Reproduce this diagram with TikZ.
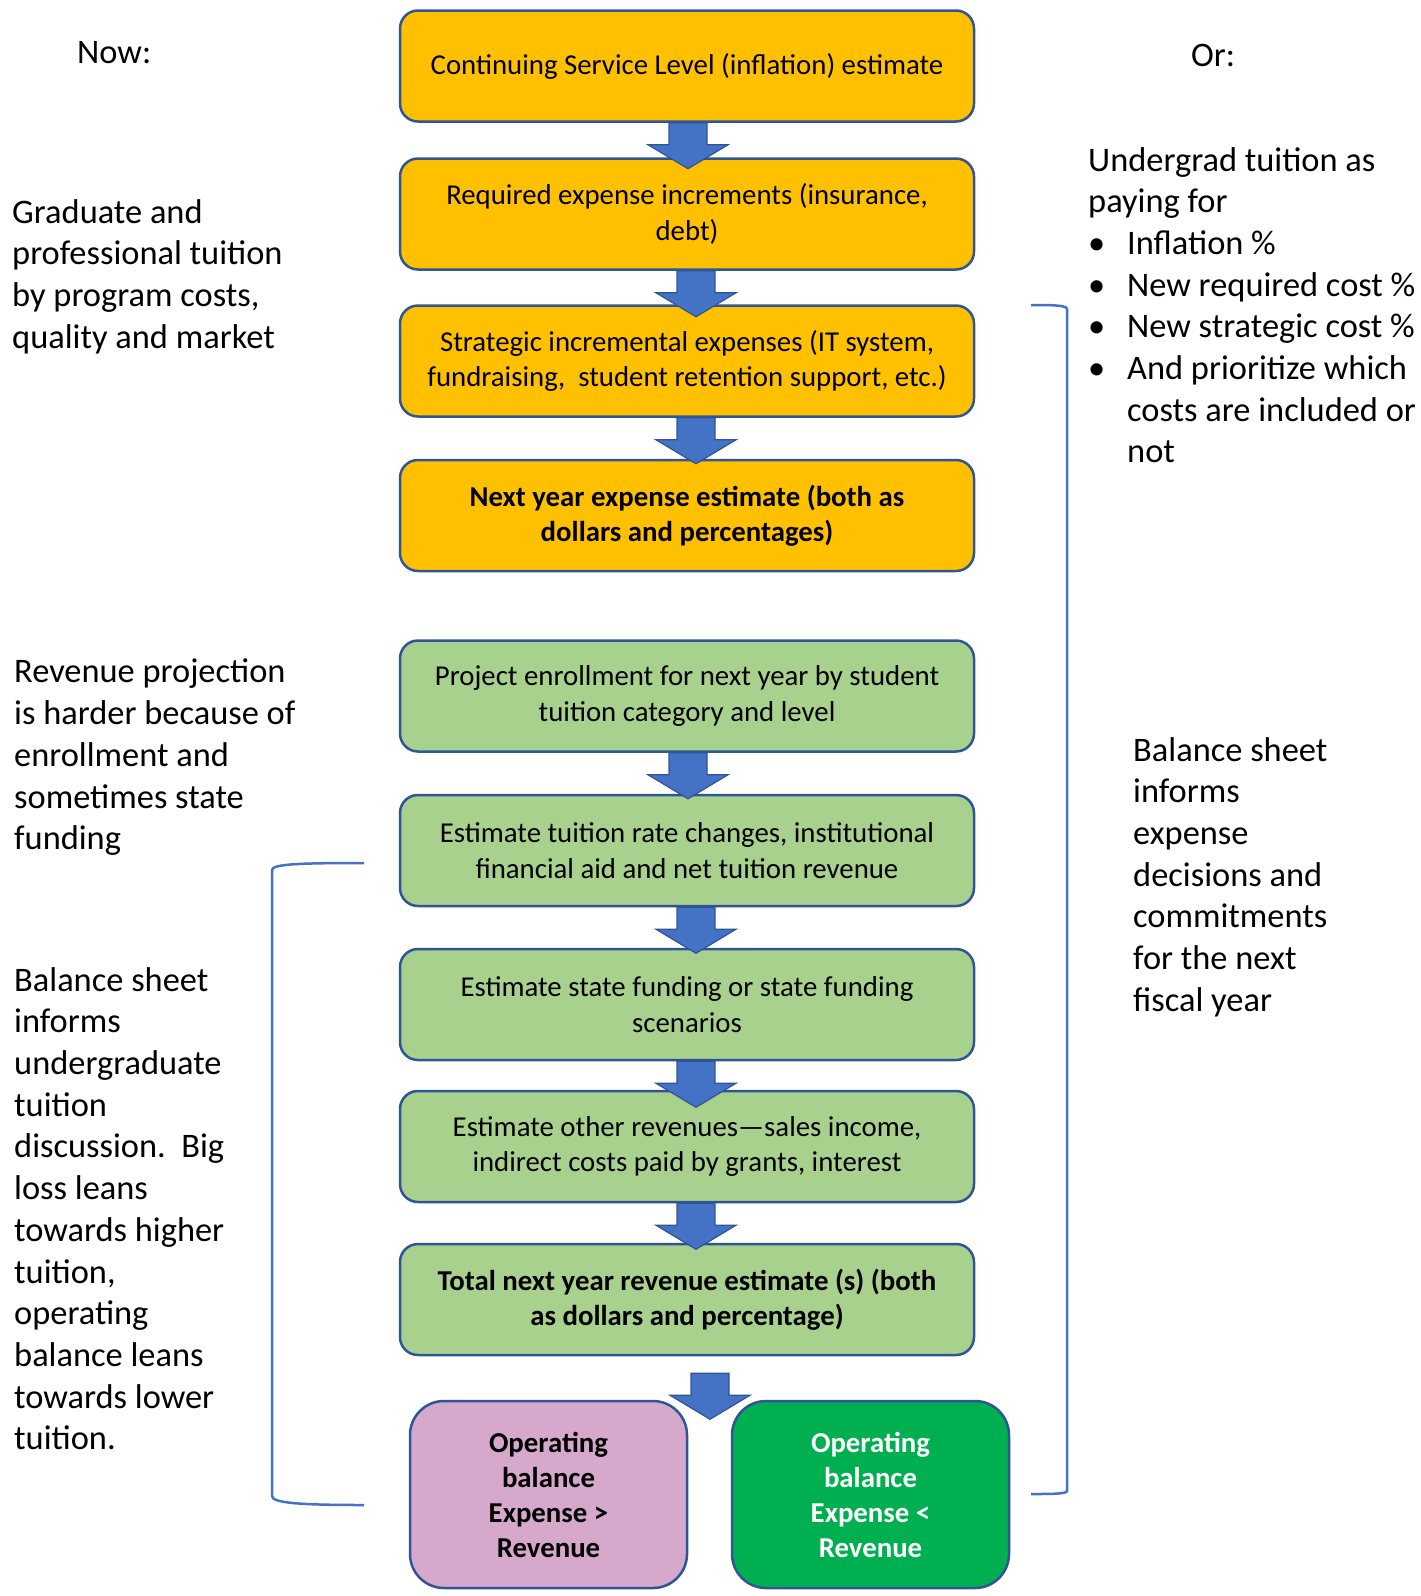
\documentclass[tikz,border=0pt]{standalone}
\usepackage{fontspec}
\setmainfont{Carlito}
\usetikzlibrary{calc}
\definecolor{boxyellow}{HTML}{FFC000}
\definecolor{boxborder}{HTML}{2F5597}
\definecolor{boxgreen}{HTML}{A9D18E}
\definecolor{boxpink}{HTML}{D6A8CB}
\definecolor{boxgreenB}{HTML}{00B050}
\definecolor{arrowblue}{HTML}{4472C4}
\newcommand{\blockarr}[3]{%
  \draw[blockarrow] ($(#1.south)+(#2,#3)$) ++(-19,0) -- ++(38,0) -- ++(0,22) -- ++(21,0)
    -- ++(-40,24) -- ++(-40,-24) -- ++(21,0) -- cycle;}
\begin{document}
\begin{tikzpicture}[x=1pt,y=-1pt,
  flowbox/.style={draw=boxborder, line width=2.5pt, rounded corners=18pt,
    minimum width=574pt, minimum height=111pt, align=center, inner sep=0pt,
    font=\fontsize{28.8}{35.5}\selectfont},
  ybox/.style={flowbox, fill=boxyellow},
  gbox/.style={flowbox, fill=boxgreen},
  endbox/.style={draw=boxborder, line width=2.5pt, rounded corners=34pt,
    minimum width=277pt, minimum height=187pt, align=center, inner sep=0pt,
    font=\fontsize{28.8}{35}\selectfont\bfseries},
  sidetext/.style={anchor=north west, align=left, inner sep=0pt,
    font=\fontsize{34.4}{41.7}\selectfont},
  blockarrow/.style={fill=arrowblue, draw=boxborder, line width=1.2pt, line join=miter},
  bracket/.style={draw=arrowblue, line width=2.5pt}
]
\useasboundingbox (0,0) rectangle (1421,1596);

% expense boxes
\node[ybox] (b1) at (687,66) {Continuing Service Level (inflation) estimate};
\node[ybox] (b2) at (687,214) {Required expense increments (insurance,\\debt)};
\node[ybox] (b3) at (687,361) {Strategic incremental expenses (IT system,\\fundraising,\ \ student retention support, etc.)};
\node[ybox] (b4) at (687,515.5) {\bfseries Next year expense estimate (both as\\\bfseries dollars and percentages)};
% revenue boxes
\node[gbox] (b5) at (687,696) {Project enrollment for next year by student\\tuition category and level};
\node[gbox] (b6) at (687,850.5) {Estimate tuition rate changes, institutional\\financial aid and net tuition revenue};
\node[gbox] (b7) at (687,1004.5) {Estimate state funding or state funding\\scenarios};
\node[gbox] (b8) at (687,1146.5) {Estimate other revenues---sales income,\\indirect costs paid by grants, interest};
\node[gbox] (b9) at (687,1299.5) {\bfseries Total next year revenue estimate (s) (both\\\bfseries as dollars and percentage)};
% outcome boxes
\node[endbox, fill=boxpink] (loss) at (548.5,1494.5) {Operating\\balance\\Expense >\\Revenue};
\node[endbox, fill=boxgreenB, text=white] (gain) at (870.5,1494.5) {Operating\\balance\\Expense <\\Revenue};

% block arrows
\blockarr{b1}{1}{0}
\blockarr{b2}{9}{0}
\blockarr{b3}{9}{0}
\blockarr{b5}{1}{0}
\blockarr{b6}{9}{0}
\blockarr{b7}{9}{0}
\blockarr{b8}{9}{0}
\blockarr{b9}{23}{17}

% side texts
\node[sidetext] (now) at (77,41) {Now:};
\node[sidetext] (or) at (1191,44) {Or:};
\node[sidetext] (grad) at (12,199) {Graduate and\\professional tuition\\by program costs,\\quality and market};
\node[sidetext] (rev) at (14,659) {Revenue projection\\is harder because of\\enrollment and\\sometimes state\\funding};
\node[sidetext] (bsl) at (14,967) {Balance sheet\\informs\\undergraduate\\tuition\\discussion.\ \ Big\\loss leans\\towards higher\\tuition,\\operating\\balance leans\\towards lower\\tuition.};
\node[sidetext] (ug) at (1088,147) {Undergrad tuition as\\paying for\\
\makebox[39pt][l]{•}Inflation \%\\
\makebox[39pt][l]{•}New required cost \%\\
\makebox[39pt][l]{•}New strategic cost \%\\
\makebox[39pt][l]{•}And prioritize which\\
\hspace*{39pt}costs are included or\\
\hspace*{39pt}not};
\node[sidetext] (bsr) at (1133,737) {Balance sheet\\informs\\expense\\decisions and\\commitments\\for the next\\fiscal year};

% brackets
\draw[bracket] (364,863) .. controls (300,863) and (272,864) .. (272,870) -- (272,1496)
  .. controls (272,1503) and (300,1505) .. (364,1505);
\draw[bracket] (1031,305) .. controls (1050,305) and (1067,305) .. (1067,309) -- (1067,1491)
  .. controls (1067,1494) and (1050,1494) .. (1031,1494);
\end{tikzpicture}
\end{document}
